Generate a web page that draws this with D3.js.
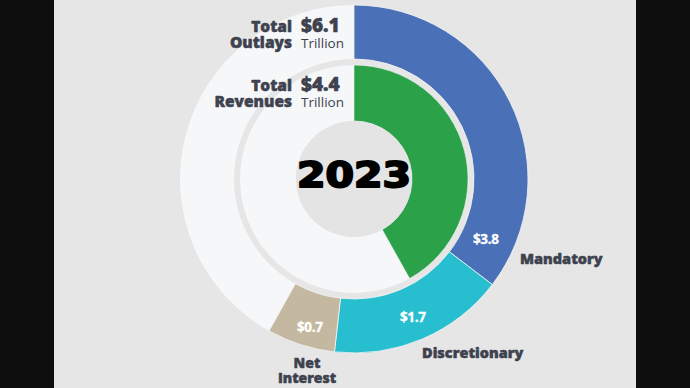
<!DOCTYPE html>
<html>
<head>
<meta charset="utf-8">
<script src="https://cdn.jsdelivr.net/npm/d3@7/dist/d3.min.js"></script>
<style>
  html, body { margin: 0; padding: 0; background: #0e0e0e; }
  svg { display: block; }
</style>
</head>
<body>
<svg id="chart" width="690" height="388"></svg>
<script>
// ---- data ----
const year = "2023";
const outlayCategories = ["Mandatory", "Discretionary", "Net Interest"];
const outlayValues = [3.75, 1.74, 0.67];          // trillions
const outlayValueLabels = ["$3.8", "$1.7", "$0.7"];
const outlayColors = ["#4a70b8", "#27bfd0", "#c4b8a0"];
const revenueValue = 4.44;                          // trillions
const revenueColor = "#2ba24a";
const scaleMax = 10.6;                              // full circle, trillions
const totalOutlaysLabel = "$6.1";
const totalRevenuesLabel = "$4.4";

// ---- layout ----
const W = 690, H = 388;
const cx = 354, cy = 179;
const outerR = [120, 174];
const innerR = [58, 114];

const svg = d3.select("#chart");
svg.append("rect").attr("x", 54).attr("y", 0).attr("width", 582).attr("height", H).attr("fill", "#e6e6e6");

const g = svg.append("g").attr("transform", `translate(${cx},${cy})`);
const angle = d3.scaleLinear().domain([0, scaleMax]).range([0, 2 * Math.PI]);

// outer ring
const outerTotal = d3.sum(outlayValues);
const outerSegs = [];
let acc = 0;
outlayValues.forEach((v, i) => {
  outerSegs.push({ start: angle(acc), end: angle(acc + v), color: outlayColors[i], i });
  acc += v;
});
const outerArc = d3.arc().innerRadius(outerR[0]).outerRadius(outerR[1]);
g.append("path").attr("d", outerArc({ startAngle: angle(outerTotal), endAngle: 2 * Math.PI }))
  .attr("fill", "#f6f7f9");
g.selectAll("path.out").data(outerSegs).join("path").attr("class", "out")
  .attr("d", d => outerArc({ startAngle: d.start, endAngle: d.end }))
  .attr("fill", d => d.color).attr("stroke", "#f4f4f4").attr("stroke-width", 0.8);

// inner ring
const innerArc = d3.arc().innerRadius(innerR[0]).outerRadius(innerR[1]);
g.append("path").attr("d", innerArc({ startAngle: angle(revenueValue), endAngle: 2 * Math.PI }))
  .attr("fill", "#f6f7f9");
g.append("path").attr("d", innerArc({ startAngle: 0, endAngle: angle(revenueValue) }))
  .attr("fill", revenueColor).attr("stroke", "#f4f4f4").attr("stroke-width", 0.6);

// center hole
g.append("circle").attr("r", innerR[0]).attr("fill", "#e4e4e4");

// year
g.append("text").text(year)
  .attr("x", 0).attr("y", 8)
  .attr("text-anchor", "middle")
  .attr("font-family", "DejaVu Sans")
  .attr("font-weight", 700)
  .attr("font-size", 35)
  .attr("textLength", 114).attr("lengthAdjust", "spacingAndGlyphs")
  .attr("fill", "#000").attr("stroke", "#000").attr("stroke-width", 2).attr("stroke-linejoin", "round");

// value labels inside outer ring
const labelFrac = [0.9, 0.5, 0.45];
const labelR = [145, 150, 154];
outerSegs.forEach((d, i) => {
  const a = d.start + (d.end - d.start) * labelFrac[i];
  const x = labelR[i] * Math.sin(a), y = -labelR[i] * Math.cos(a);
  g.append("text").text(outlayValueLabels[i])
    .attr("x", x).attr("y", y + 5)
    .attr("text-anchor", "middle")
    .attr("font-family", "Open Sans").attr("font-weight", 700).attr("font-size", 13.5)
    .attr("letter-spacing", -0.3)
    .attr("fill", "#ffffff").attr("stroke", "#ffffff").attr("stroke-width", 0.3);
});

// category labels
const catColor = "#3d424e";
const heavy = "Open Sans";
function styleHeavy(sel, size) {
  return sel.attr("font-family", heavy).attr("font-weight", 800)
    .attr("font-size", size).attr("fill", catColor)
    .attr("stroke", catColor).attr("stroke-width", 0.5).attr("stroke-linejoin", "round");
}
// multi-line label as one text element with tspans
function multiText(lines, x, y, dy, anchor, sizes, weights) {
  const t = svg.append("text").attr("x", x).attr("y", y).attr("text-anchor", anchor)
    .attr("font-family", heavy).attr("fill", catColor);
  lines.forEach((ln, i) => {
    const ts = t.append("tspan").attr("x", x).attr("y", y + i * dy).text(ln)
      .attr("font-size", sizes[i]).attr("font-weight", weights[i]);
    if (weights[i] >= 700) ts.attr("stroke", catColor).attr("stroke-width", 0.5).attr("stroke-linejoin", "round");
  });
  return t;
}
styleHeavy(svg.append("text").text(outlayCategories[0]).attr("x", cx + 166).attr("y", cy + 85), 14.5);
styleHeavy(svg.append("text").text(outlayCategories[1]).attr("x", cx + 68).attr("y", cy + 179), 14.5);
multiText(outlayCategories[2].split(" "), cx - 47, cy + 189, 15, "middle", [14, 14], [800, 800]);

// totals headers
function header(l1, l2, val, y1, y2) {
  multiText([l1, l2], 292, y1, y2 - y1, "end", [15.5, 15.5], [800, 800]);
  multiText([val, "Trillion"], 301, y1, y2 - y1, "start", [19, 13.5], [800, 400]);
}
header("Total", "Outlays", totalOutlaysLabel, 32, 48);
header("Total", "Revenues", totalRevenuesLabel, 91, 107);
</script>
</body>
</html>
